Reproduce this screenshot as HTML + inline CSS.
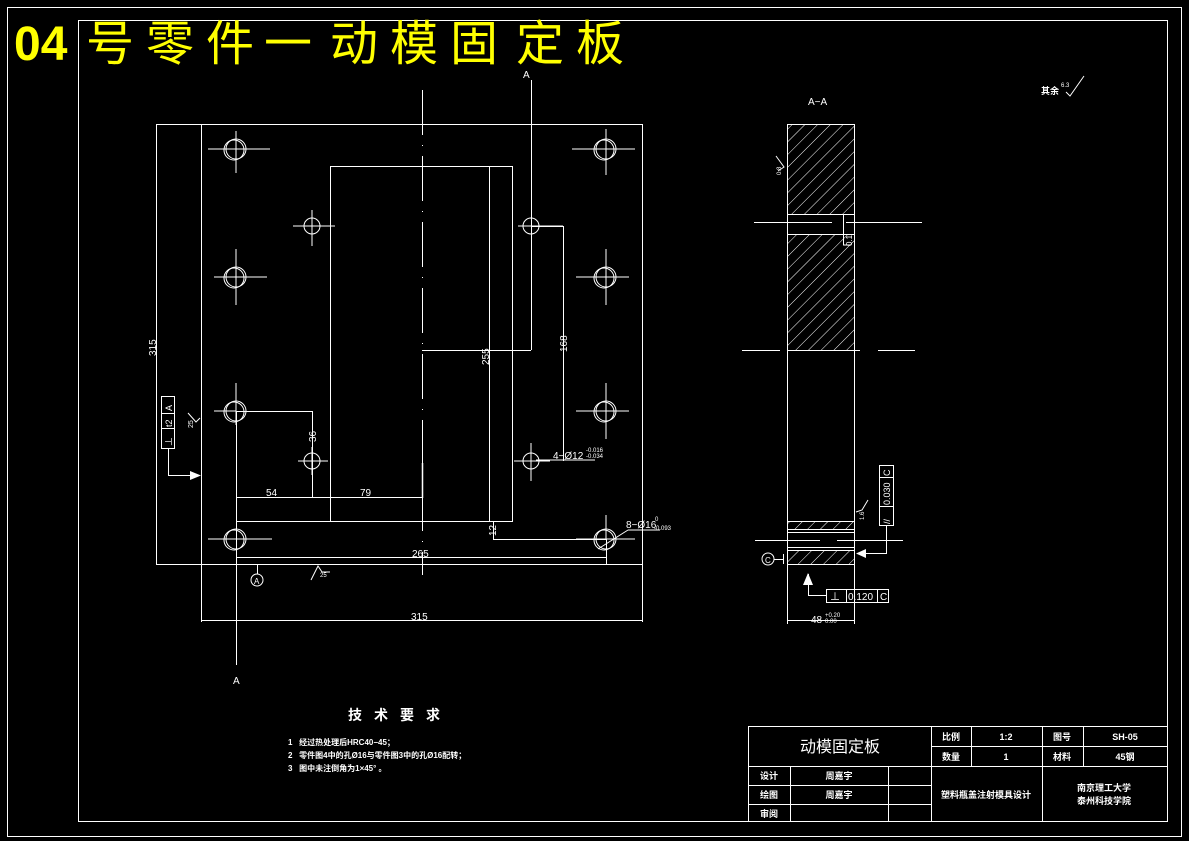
<!DOCTYPE html>
<html><head><meta charset="utf-8"><style>
html,body{margin:0;padding:0;background:#000;}
svg{display:block;}
text{font-family:"Liberation Sans","Noto Sans CJK SC",sans-serif;fill:#fff;}
text.y{fill:#ff0;font-weight:normal;}
</style></head><body>
<svg width="1189" height="841" viewBox="0 0 1189 841" xmlns="http://www.w3.org/2000/svg">
<defs>
<pattern id="h" patternUnits="userSpaceOnUse" width="9" height="9" patternTransform="rotate(45)">
<line x1="0" y1="0" x2="0" y2="9" stroke="#fff" stroke-width="1"/>
</pattern>
</defs>
<rect width="1189" height="841" fill="#000"/>
<g fill="none" stroke="#fff" stroke-width="1">
<rect x="7.5" y="7.5" width="1174" height="829"/>
<rect x="78.5" y="20.5" width="1089" height="801"/>
</g>
<!-- title -->
<text class="y" x="14" y="60" font-size="48" style="font-weight:bold">04</text>
<text class="y" x="86" y="60" font-size="48">号</text>
<text class="y" x="146" y="60" font-size="48">零</text>
<text class="y" x="206" y="60" font-size="48">件</text>
<text class="y" x="264" y="60" font-size="48">一</text>
<text class="y" x="330" y="60" font-size="48">动</text>
<text class="y" x="390" y="60" font-size="48">模</text>
<text class="y" x="450" y="60" font-size="48">固</text>
<text class="y" x="516" y="60" font-size="48">定</text>
<text class="y" x="576" y="60" font-size="48">板</text>

<!-- main view -->
<g fill="none" stroke="#fff" stroke-width="1">
<line x1="156" y1="124.5" x2="642" y2="124.5"/>
<line x1="156" y1="564.5" x2="642" y2="564.5"/>
<line x1="156.5" y1="124" x2="156.5" y2="564"/>
<line x1="201.5" y1="124" x2="201.5" y2="622"/>
<line x1="642.5" y1="124" x2="642.5" y2="622"/>
<line x1="201" y1="620.5" x2="642" y2="620.5"/>
<line x1="422.5" y1="90" x2="422.5" y2="575" stroke-dasharray="45,10,1,10"/>
<rect x="330.5" y="166.5" width="182" height="355"/>
<line x1="489.5" y1="166" x2="489.5" y2="521"/>
<line x1="236" y1="521.5" x2="330" y2="521.5"/>
<line x1="531.5" y1="80" x2="531.5" y2="350"/>
<line x1="422" y1="350.5" x2="531" y2="350.5"/>
<line x1="236.5" y1="411" x2="236.5" y2="665"/>
<line x1="531" y1="226.5" x2="563" y2="226.5"/>
<line x1="563.5" y1="226" x2="563.5" y2="461"/>
<line x1="236" y1="411.5" x2="313" y2="411.5"/>
<line x1="312.5" y1="411" x2="312.5" y2="498"/>
<line x1="236" y1="497.5" x2="422" y2="497.5"/>
<line x1="422.5" y1="463" x2="422.5" y2="498" stroke-width="1.5"/>
<line x1="493.5" y1="521" x2="493.5" y2="539"/>
<line x1="493" y1="539.5" x2="606" y2="539.5"/>
<line x1="236" y1="557.5" x2="606" y2="557.5"/>
<line x1="606.5" y1="539" x2="606.5" y2="564"/>
<g>
<circle cx="236" cy="149" r="10"/><circle cx="234" cy="150" r="10"/>
<line x1="208" y1="149" x2="270" y2="149"/><line x1="236" y1="131" x2="236" y2="173"/>
<circle cx="606" cy="149" r="10"/><circle cx="604" cy="150" r="10"/>
<line x1="572" y1="149" x2="635" y2="149"/><line x1="606" y1="129" x2="606" y2="175"/>
<circle cx="236" cy="277" r="10"/><circle cx="234" cy="278" r="10"/>
<line x1="214" y1="277" x2="267" y2="277"/><line x1="236" y1="249" x2="236" y2="305"/>
<circle cx="606" cy="277" r="10"/><circle cx="604" cy="278" r="10"/>
<line x1="576" y1="277" x2="629" y2="277"/><line x1="606" y1="249" x2="606" y2="305"/>
<circle cx="236" cy="411" r="10"/><circle cx="234" cy="412" r="10"/>
<line x1="214" y1="411" x2="236" y2="411"/><line x1="236" y1="383" x2="236" y2="425"/>
<circle cx="606" cy="411" r="10"/><circle cx="604" cy="412" r="10"/>
<line x1="576" y1="411" x2="629" y2="411"/><line x1="606" y1="383" x2="606" y2="439"/>
<circle cx="236" cy="539" r="10"/><circle cx="234" cy="540" r="10"/>
<line x1="208" y1="539" x2="272" y2="539"/>
<circle cx="606" cy="539" r="10"/><circle cx="604" cy="540" r="10"/>
<line x1="576" y1="539" x2="635" y2="539"/><line x1="606" y1="515" x2="606" y2="539"/>
</g>
<g>
<circle cx="312" cy="226" r="8"/><line x1="293" y1="226" x2="335" y2="226"/><line x1="312" y1="210" x2="312" y2="246"/>
<circle cx="531" cy="226" r="8"/><line x1="518" y1="226" x2="563" y2="226"/>
<circle cx="312" cy="461" r="8"/><line x1="298" y1="461" x2="328" y2="461"/><line x1="312" y1="447" x2="312" y2="475"/>
<circle cx="531" cy="461" r="8"/><line x1="514" y1="461" x2="550" y2="461"/><line x1="531" y1="443" x2="531" y2="481"/>
</g>
<line x1="536" y1="460" x2="595" y2="460"/>
<line x1="598" y1="549" x2="628" y2="530"/>
<line x1="628" y1="530" x2="660" y2="530"/>
<rect x="161.5" y="396.5" width="13" height="52"/>
<line x1="161" y1="428.5" x2="174" y2="428.5"/>
<line x1="161" y1="413.5" x2="174" y2="413.5"/>
<polyline points="168.5,448 168.5,475.5 190,475.5"/>
<line x1="257.5" y1="564" x2="257.5" y2="574"/>
<circle cx="257" cy="580" r="6"/>
<polyline points="311,580 318,566 322,572 330,572"/>
<polyline points="188,413 196,422 200,418"/>
</g>
<polygon points="190,471 201,475.5 190,480" fill="#fff"/>
<g font-size="10">
<text x="523" y="78" font-size="10">A</text>
<text x="233" y="684" font-size="10">A</text>
<text transform="translate(156,356) rotate(-90)">315</text>
<text transform="translate(489,365) rotate(-90)">255</text>
<text transform="translate(567,352) rotate(-90)">168</text>
<text transform="translate(316,442) rotate(-90)">36</text>
<text transform="translate(496,536) rotate(-90)">12</text>
<text x="266" y="496">54</text>
<text x="360" y="496">79</text>
<text x="412" y="557">265</text>
<text x="411" y="620">315</text>
<text x="553" y="459">4−Ø12</text>
<text x="586" y="452" font-size="6">-0.016</text>
<text x="586" y="458" font-size="6">-0.034</text>
<text x="626" y="528">8−Ø16</text>
<text x="655" y="521" font-size="6">0</text>
<text x="654" y="530" font-size="6">-0.093</text>
<text x="254" y="584" font-size="8">A</text>
<text x="320" y="577" font-size="6">25</text>
<text transform="translate(193,428) rotate(-90)" font-size="7">25</text>
<text transform="translate(172,446) rotate(-90)" font-size="9">⊥</text>
<text transform="translate(172,427) rotate(-90)" font-size="9">t2</text>
<text transform="translate(172,411) rotate(-90)" font-size="9">A</text>
</g>

<!-- section view -->
<rect x="787" y="124" width="67" height="90" fill="url(#h)"/>
<rect x="787" y="234" width="67" height="116" fill="url(#h)"/>
<rect x="787" y="521" width="67" height="8" fill="url(#h)"/>
<rect x="787" y="551" width="67" height="13" fill="url(#h)"/>
<g fill="none" stroke="#fff" stroke-width="1">
<line x1="787.5" y1="124" x2="787.5" y2="624"/>
<line x1="854.5" y1="124" x2="854.5" y2="624"/>
<line x1="787" y1="124.5" x2="854" y2="124.5"/>
<line x1="787" y1="214.5" x2="854" y2="214.5"/>
<line x1="787" y1="234.5" x2="854" y2="234.5"/>
<polyline points="843.5,214 843.5,234 843.5,245 850,245"/>
<line x1="754" y1="222.5" x2="832" y2="222.5"/>
<line x1="846" y1="222.5" x2="922" y2="222.5"/>
<line x1="742" y1="350.5" x2="780" y2="350.5"/>
<line x1="795" y1="350.5" x2="860" y2="350.5"/>
<line x1="878" y1="350.5" x2="915" y2="350.5"/>
<line x1="787" y1="350.5" x2="854" y2="350.5"/>
<line x1="787" y1="521.5" x2="854" y2="521.5"/>
<line x1="787" y1="529.5" x2="854" y2="529.5"/>
<line x1="787" y1="532.5" x2="854" y2="532.5"/>
<line x1="755" y1="540.5" x2="820" y2="540.5"/>
<line x1="837" y1="540.5" x2="903" y2="540.5"/>
<line x1="787" y1="547.5" x2="854" y2="547.5"/>
<line x1="787" y1="550.5" x2="854" y2="550.5"/>
<line x1="787" y1="564.5" x2="854" y2="564.5"/>
<circle cx="768" cy="559" r="6"/>
<line x1="774" y1="559.5" x2="783" y2="559.5"/>
<line x1="783.5" y1="554" x2="783.5" y2="564"/>
<polyline points="808.5,574 808.5,595.5 826,595.5"/>
<rect x="826.5" y="589.5" width="62" height="13"/>
<line x1="846.5" y1="589" x2="846.5" y2="602"/>
<line x1="877.5" y1="589" x2="877.5" y2="602"/>
<rect x="879.5" y="465.5" width="14" height="60"/>
<line x1="879" y1="477.5" x2="893" y2="477.5"/>
<line x1="879" y1="506.5" x2="893" y2="506.5"/>
<polyline points="886.5,525 886.5,553.5 866,553.5"/>
<line x1="787" y1="620.5" x2="854" y2="620.5"/>
<polyline points="776,156 784,167 778,171"/>
<polyline points="868,500 862,510 856,512"/>
<polyline points="1066,92 1070,96 1084,76"/>
</g>
<polygon points="803,585 808,573 813,585" fill="#fff"/>
<polygon points="866,549 856,553.5 866,558" fill="#fff"/>
<g font-size="10">
<text x="808" y="105">A−A</text>
<text x="765" y="563" font-size="8">C</text>
<text x="830" y="600">⊥</text>
<text x="848" y="600">0.120</text>
<text x="880" y="600">C</text>
<text transform="translate(890,524) rotate(-90)" font-size="9">//</text>
<text transform="translate(890,505) rotate(-90)" font-size="9">0.030</text>
<text transform="translate(890,476) rotate(-90)" font-size="9">C</text>
<text x="811" y="623">48</text>
<text x="825" y="617" font-size="6">+0.20</text>
<text x="825" y="623" font-size="6">0.00</text>
<text transform="translate(781,175) rotate(-90)" font-size="6">0.8</text>
<text transform="translate(852,246) rotate(-90)" font-size="8">0.1</text>
<text transform="translate(864,520) rotate(-90)" font-size="6">1.6</text>
<text x="1041" y="94" font-size="9" style="font-weight:bold">其余</text>
<text x="1061" y="87" font-size="6">6.3</text>
</g>

<!-- tech requirements -->
<g>
<text x="348" y="720" font-size="14" style="font-weight:bold" letter-spacing="12">技术要求</text>
<text x="288" y="745" font-size="8" style="font-weight:bold">1 &#160; 经过热处理后HRC40−45；</text>
<text x="288" y="758" font-size="8" style="font-weight:bold">2 &#160; 零件图4中的孔Ø16与零件图3中的孔Ø16配转；</text>
<text x="288" y="771" font-size="8" style="font-weight:bold">3 &#160; 图中未注倒角为1×45° 。</text>
</g>

<!-- title block -->
<g fill="none" stroke="#fff" stroke-width="1">
<rect x="748.5" y="726.5" width="419" height="95"/>
<line x1="931" y1="746.5" x2="1167" y2="746.5"/>
<line x1="748" y1="766.5" x2="1167" y2="766.5"/>
<line x1="748" y1="785.5" x2="931" y2="785.5"/>
<line x1="748" y1="804.5" x2="931" y2="804.5"/>
<line x1="931.5" y1="726" x2="931.5" y2="821"/>
<line x1="971.5" y1="726" x2="971.5" y2="766"/>
<line x1="1042.5" y1="726" x2="1042.5" y2="821"/>
<line x1="1083.5" y1="726" x2="1083.5" y2="766"/>
<line x1="790.5" y1="766" x2="790.5" y2="821"/>
<line x1="888.5" y1="766" x2="888.5" y2="821"/>
</g>
<g font-size="9" style="font-weight:bold" text-anchor="middle">
<text x="840" y="752" font-size="16" style="font-weight:normal">动模固定板</text>
<text x="951" y="740">比例</text>
<text x="1006" y="740">1:2</text>
<text x="1062" y="740">图号</text>
<text x="1125" y="740">SH-05</text>
<text x="951" y="760">数量</text>
<text x="1006" y="760">1</text>
<text x="1062" y="760">材料</text>
<text x="1125" y="760">45钢</text>
<text x="769" y="779">设计</text>
<text x="839" y="779">周嘉宇</text>
<text x="769" y="798">绘图</text>
<text x="839" y="798">周嘉宇</text>
<text x="769" y="817">审阅</text>
<text x="986" y="798">塑料瓶盖注射模具设计</text>
<text x="1104" y="791">南京理工大学</text>
<text x="1104" y="804">泰州科技学院</text>
</g>
</svg>
</body></html>
